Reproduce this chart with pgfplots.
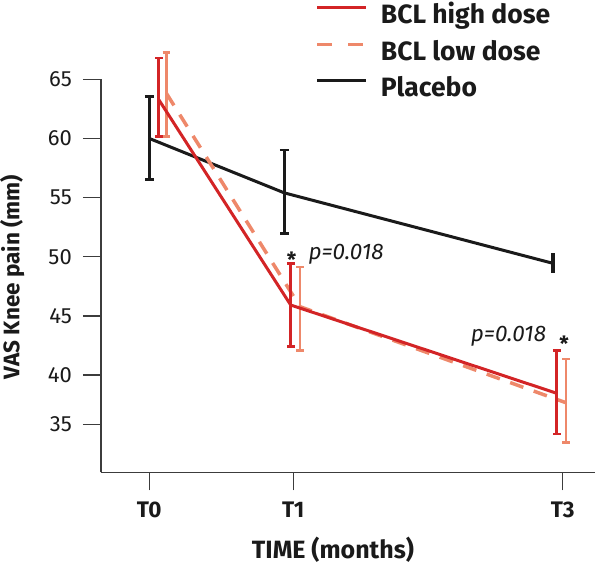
\documentclass[border=0pt]{standalone}
\usepackage{pgfplots}
\pgfplotsset{compat=1.18}
\usepackage{fontspec}
\setmainfont{Fira Sans}
\definecolor{hd}{RGB}{211,36,38}
\definecolor{ld}{RGB}{238,136,106}
\definecolor{pb}{RGB}{26,26,26}
\definecolor{axgray}{RGB}{60,60,60}
\begin{document}
\begin{tikzpicture}
\begin{axis}[
  scale only axis,
  width=494bp, height=393bp,
  xmin=101, xmax=595, ymin=31.78, ymax=65,
  clip=false,
  axis lines=left,
  axis line style={-, draw=axgray, line width=1.5bp},
  tick style={draw=axgray, line width=1.3bp},
  tick align=outside,
  major tick length=18bp,
  xtick={149.3,293.3,562.7},
  xticklabels={T0,T1,T3},
  ytick={35.84,40,45,50,55,60,65},
  yticklabels={35,40,45,50,55,60,65},
  /pgf/number format/assume math mode=true,
  xticklabel style={font=\fontsize{22.5bp}{26bp}\selectfont\bfseries, text=pb, anchor=north, inner sep=0pt, text height=15.5bp, yshift=-11bp},
  yticklabel style={font=\fontsize{22bp}{26bp}\selectfont, text=pb, anchor=east, inner sep=0pt, xshift=-11bp},
  xlabel={TIME (months)},
  ylabel={VAS Knee pain (mm)},
  every axis x label/.style={at={(axis description cs:0.4696,-0.2182)}, anchor=base, font=\fontsize{25bp}{30bp}\selectfont\bfseries, text=pb},
  every axis y label/.style={at={(axis description cs:-0.1654,0.497)}, rotate=90, anchor=base, font=\fontsize{22.5bp}{27bp}\selectfont\bfseries, text=pb},
  legend style={at={(rel axis cs:0.4352,1.1891)}, anchor=north west, draw=none, fill=none, inner sep=0pt, outer sep=0pt,
    font=\fontsize{26.5bp}{31bp}\selectfont\bfseries, text=pb, row sep=12.5bp,
    nodes={inner sep=0pt, text height=19bp, text depth=5bp}},
  legend cell align=left,
  legend image code/.code={\draw[#1] (0bp,9bp) -- (49bp,9bp); \path (62bp,0bp);},
]
\addlegendimage{hd, line width=3bp}
\addlegendentry{BCL high dose}
\addlegendimage{ld, line width=3bp, dash pattern=on 15bp off 16bp}
\addlegendentry{BCL low dose}
\addlegendimage{pb, line width=3bp}
\addlegendentry{Placebo}

% Placebo
\addplot[pb, line width=3bp, forget plot] coordinates {(149.3,60.0) (284.3,55.4) (552.7,49.45)};
\addplot[draw=none, mark=none, forget plot,
  error bars/.cd, y dir=both, y explicit,
  error bar style={draw=pb, line width=2.5bp},
  error mark options={rotate=90, draw=pb, mark size=4.5bp, line width=2.5bp}]
  coordinates {(149.3,60.04) +- (0,3.5) (284.3,55.5) +- (0,3.52)};
\addplot[draw=none, mark=none, forget plot,
  error bars/.cd, y dir=both, y explicit, error mark=none,
  error bar style={draw=pb, line width=4bp}]
  coordinates {(552.7,49.45) +- (0,0.85)};

% Low dose
\addplot[ld, line width=3.5bp, dash pattern=on 14bp off 11bp, forget plot] coordinates {(166.5,63.8) (300,45.78) (566,37.66)};
\addplot[draw=none, mark=none, forget plot,
  error bars/.cd, y dir=both, y explicit,
  error bar style={draw=ld, line width=2.5bp},
  error mark options={rotate=90, draw=ld, mark size=3.8bp, line width=2.5bp}]
  coordinates {(166.5,63.73) +- (0,3.55) (300,45.62) +- (0,3.53) (566,37.82) +- (0,3.54)};

% High dose
\addplot[hd, line width=3bp, forget plot] coordinates {(159,63.25) (290.7,45.92) (556.7,38.46)};
\addplot[draw=none, mark=none, forget plot,
  error bars/.cd, y dir=both, y explicit,
  error bar style={draw=hd, line width=3bp},
  error mark options={rotate=90, draw=hd, mark size=3.8bp, line width=2.5bp}]
  coordinates {(159,63.49) +- (0,3.31) (290.7,45.93) +- (0,3.52) (556.7,38.53) +- (0,3.53)};

% annotations
\node[anchor=base, inner sep=0pt, text=pb, font=\fontsize{21bp}{24bp}\selectfont\bfseries] at (axis cs:291.7,49.13) {*};
\node[anchor=base west, inner sep=0pt, text=pb, font=\fontsize{22.5bp}{26bp}\selectfont\itshape] at (axis cs:308.3,49.81) {p=0.018};
\node[anchor=base west, inner sep=0pt, text=pb, font=\fontsize{22.5bp}{26bp}\selectfont\itshape] at (axis cs:470.7,42.82) {p=0.018};
\node[anchor=base, inner sep=0pt, text=pb, font=\fontsize{21bp}{24bp}\selectfont\bfseries] at (axis cs:564,41.95) {*};
\end{axis}
\pgfresetboundingbox
\path[use as bounding box] (-101bp,-91.7bp) rectangle (495bp,472.3bp);
\end{tikzpicture}
\end{document}
